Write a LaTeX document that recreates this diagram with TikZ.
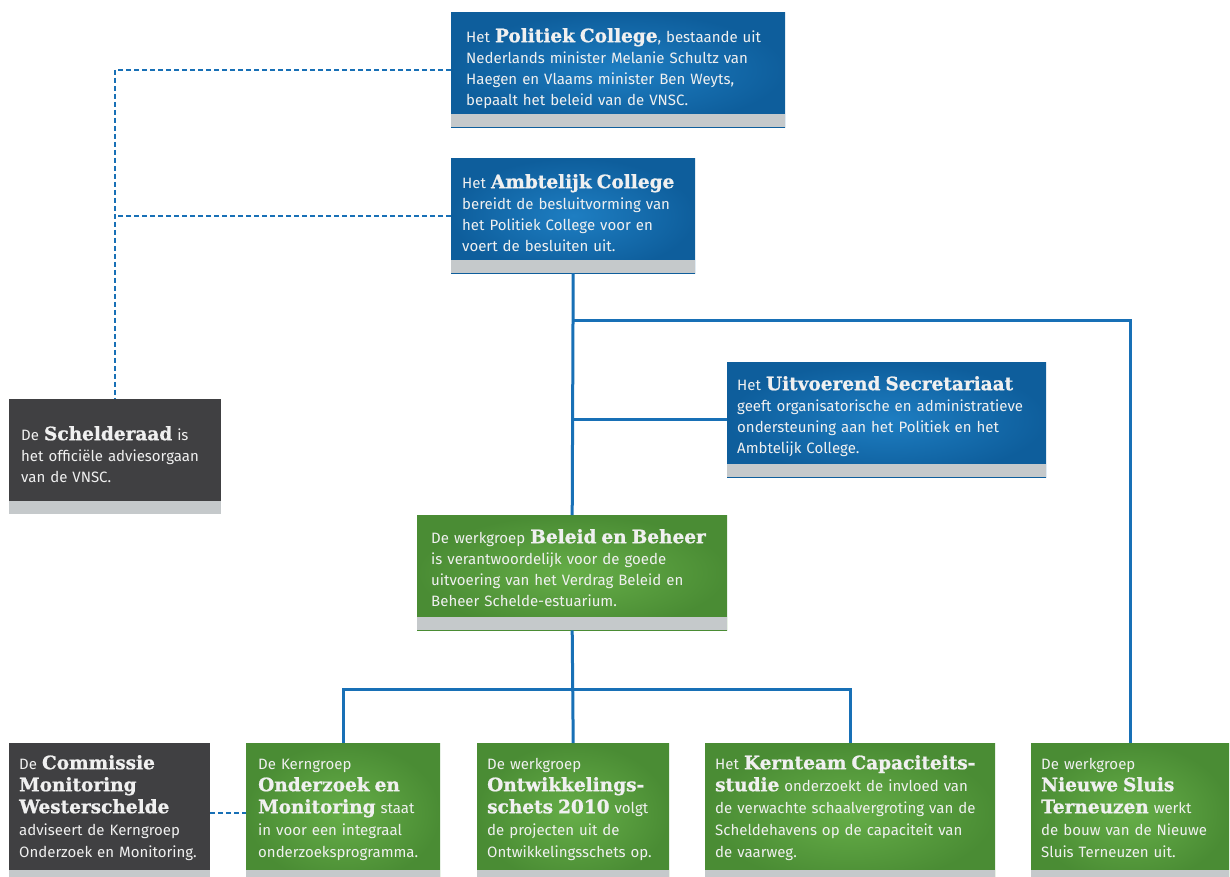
\documentclass[tikz,border=0pt]{standalone}
\usepackage{fontspec}
\setsansfont{Fira Sans}
\newfontfamily\slabfont{DejaVu Serif}[BoldFeatures={FakeBold=1}]
\usepackage{tikz}
\usepackage{xcolor}
\usetikzlibrary{calc}

\definecolor{vnscblue}{RGB}{14,94,156}
\definecolor{vnsclightblue}{RGB}{30,126,194}
\definecolor{vnscgreen}{RGB}{74,140,52}
\definecolor{vnsclightgreen}{RGB}{102,174,72}
\definecolor{vnscgrey}{RGB}{64,64,66}
\definecolor{bargrey}{RGB}{197,201,203}
\definecolor{linkblue}{RGB}{24,112,182}

% bold slab-style name inside a box
\newcommand{\kop}[1]{{\slabfont\bfseries\fontsize{18.5}{21}\selectfont #1}}

\tikzset{
  orgbox/.style={ % coloured box with a grey strip at the bottom
    anchor=north west, inner ysep=0pt, inner xsep=11pt,
    align=left, text=white!94!black,
    font=\sffamily\fontsize{15}{21}\selectfont,
    path picture = {
      \fill[bargrey]
      (path picture bounding box.south west) rectangle
      ([yshift=13pt]path picture bounding box.south east);
    }
  },
  bluebox/.style={orgbox, inner color=vnsclightblue, outer color=vnscblue},
  greenbox/.style={orgbox, inner color=vnsclightgreen, outer color=vnscgreen},
  greybox/.style={orgbox, fill=vnscgrey},
  lowbox/.style={ % the row at the bottom
    text height=26pt, text depth=114pt,
    font=\sffamily\fontsize{15}{22}\selectfont
  },
  orgline/.style={draw=linkblue, line width=3pt},
  dashline/.style={draw=linkblue, line width=2pt, dash pattern=on 5pt off 3pt}
}

\begin{document}
\begin{tikzpicture}[x=1pt, y=-1pt]
  \useasboundingbox (0,0) rectangle (1230,876);

  \node[bluebox, inner xsep=15pt, text width=304pt, text height=30pt, text depth=85pt] (pc) at (451,12)
    {Het \kop{Politiek College}, bestaande uit\\Nederlands minister Melanie Schultz van\\Haegen en Vlaams minister Ben Weyts,\\bepaalt het beleid van de VNSC.};
  \node[bluebox, text width=222pt, text height=30pt, text depth=85pt] (ac) at (451,158)
    {Het \kop{Ambtelijk College}\\bereidt de besluitvorming van\\het Politiek College voor en\\voert de besluiten uit.};
  \node[greybox, inner xsep=12pt, text width=188pt, text height=41pt, text depth=74pt] (sr) at (9,399)
    {De \kop{Schelderaad} is\\het officiële adviesorgaan\\van de VNSC.};
  \node[bluebox, inner xsep=10pt, text width=299pt, text height=28pt, text depth=87pt] (us) at (727,362)
    {Het \kop{Uitvoerend Secretariaat}\\geeft organisatorische en administratieve\\ondersteuning aan het Politiek en het\\Ambtelijk College.};
  \node[greenbox, inner xsep=14pt, text width=282pt, text height=28pt, text depth=87pt] (bb) at (417,515)
    {De werkgroep \kop{Beleid en Beheer}\\is verantwoordelijk voor de goede\\uitvoering van het Verdrag Beleid en\\Beheer Schelde-estuarium.};

  \node[greybox, lowbox, inner xsep=10pt, text width=181pt] (cmw) at (9,743)
    {De \kop{Commissie}\\\kop{Monitoring}\\\kop{Westerschelde}\\adviseert de Kerngroep\\Onderzoek en Monitoring.};
  \node[greenbox, lowbox, inner xsep=12pt, text width=170pt] (kom) at (246,743)
    {De Kerngroep\\\kop{Onderzoek en}\\\kop{Monitoring} staat\\in voor een integraal\\onderzoeksprogramma.};
  \node[greenbox, lowbox, inner xsep=10pt, text width=172pt] (ows) at (477,743)
    {De werkgroep\\\kop{Ontwikkelings-}\\\kop{schets 2010} volgt\\de projecten uit de\\Ontwikkelingsschets op.};
  \node[greenbox, lowbox, inner xsep=10pt, text width=270pt] (kc) at (705,743)
    {Het \kop{Kernteam Capaciteits-}\\\kop{studie} onderzoekt de invloed van\\de verwachte schaalvergroting van de\\Scheldehavens op de capaciteit van\\de vaarweg.};
  \node[greenbox, lowbox, inner xsep=10pt, text width=178pt] (nst) at (1031,743)
    {De werkgroep\\\kop{Nieuwe Sluis}\\\kop{Terneuzen} werkt\\de bouw van de Nieuwe\\Sluis Terneuzen uit.};

  \coordinate (split1) at (573,320);
  \coordinate (split2) at (573,689);

  % advisory links
  \draw[dashline] (pc.west) -| (sr.north);
  \draw[dashline] (ac.west) -- (ac.west -| sr.north);
  \draw[dashline] (cmw.east) -- (kom.west);

  % hierarchy
  \draw[orgline] (ac.south) -- (bb.north);
  \draw[orgline] (split1) -| (nst.north);
  \draw[orgline] (us.west) -- (us.west -| ac.south);
  \draw[orgline] (bb.south) -- (ows.north);
  \draw[orgline] (kom.north) |- (split2) -| (kc.north);
\end{tikzpicture}
\end{document}
